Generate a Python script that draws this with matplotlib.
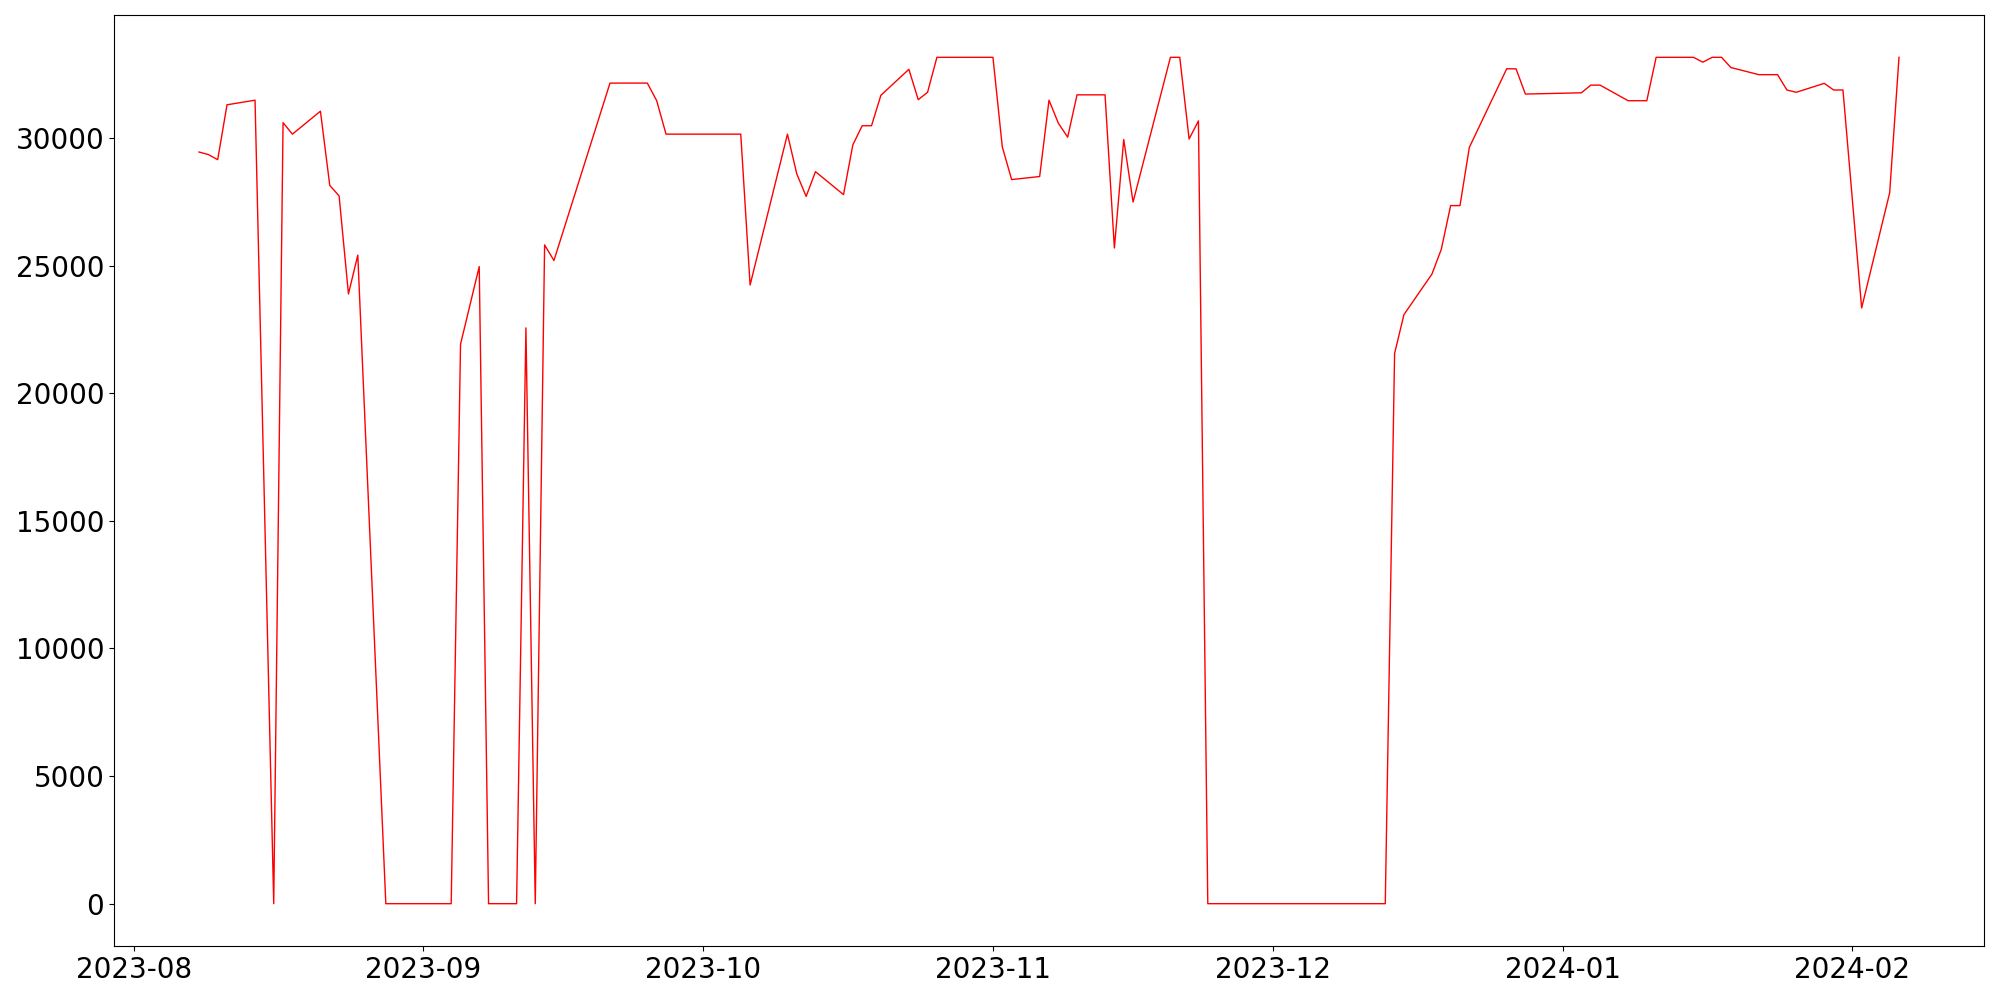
import matplotlib
matplotlib.use("Agg")
import matplotlib.pyplot as plt
import pandas as pd

# business-day series, values
dates = [
    "2023-08-08", "2023-08-09", "2023-08-10", "2023-08-11", "2023-08-14",
    "2023-08-16", "2023-08-17", "2023-08-18", "2023-08-21", "2023-08-22",
    "2023-08-23", "2023-08-24", "2023-08-25", "2023-08-28", "2023-08-29",
    "2023-08-30", "2023-08-31", "2023-09-01", "2023-09-04", "2023-09-05",
    "2023-09-07", "2023-09-08", "2023-09-11", "2023-09-12", "2023-09-13",
    "2023-09-14", "2023-09-15", "2023-09-21", "2023-09-22", "2023-09-25",
    "2023-09-26", "2023-09-27", "2023-10-05", "2023-10-06", "2023-10-10",
    "2023-10-11", "2023-10-12", "2023-10-13", "2023-10-16", "2023-10-17",
    "2023-10-18", "2023-10-19", "2023-10-20", "2023-10-23", "2023-10-24",
    "2023-10-25", "2023-10-26", "2023-11-01", "2023-11-02", "2023-11-03",
    "2023-11-06", "2023-11-07", "2023-11-08", "2023-11-09", "2023-11-10",
    "2023-11-13", "2023-11-14", "2023-11-15", "2023-11-16", "2023-11-20",
    "2023-11-21", "2023-11-22", "2023-11-23", "2023-11-24", "2023-12-13",
    "2023-12-14", "2023-12-15", "2023-12-18", "2023-12-19", "2023-12-20",
    "2023-12-21", "2023-12-22", "2023-12-26", "2023-12-27", "2023-12-28",
    "2024-01-03", "2024-01-04", "2024-01-05", "2024-01-08", "2024-01-10",
    "2024-01-11", "2024-01-15", "2024-01-16", "2024-01-17", "2024-01-18",
    "2024-01-19", "2024-01-22", "2024-01-24", "2024-01-25", "2024-01-26",
    "2024-01-29", "2024-01-30", "2024-01-31", "2024-02-02", "2024-02-05",
    "2024-02-06",
]

values = [
    29450, 29350, 29150, 31300, 31480,
    0, 30600, 30150, 31050, 28140,
    27730, 23890, 25410, 0, 0,
    0, 0, 0, 0, 21920,
    24960, 0, 0, 22560, 0,
    25810, 25200, 32150, 32150, 32150,
    31460, 30150, 30150, 24240, 30150,
    28590, 27710, 28680, 27780, 29730,
    30480, 30480, 31670, 32690, 31500,
    31790, 33160, 33160, 29650, 28370,
    28490, 31480, 30580, 30030, 31690,
    31690, 25690, 29940, 27490, 33160,
    33160, 29960, 30670, 0, 0,
    21560, 23080, 24670, 25640, 27350,
    27350, 29630, 32710, 32710, 31720,
    31770, 32070, 32070, 31460, 31460,
    33160, 33160, 32970, 33160, 33160,
    32760, 32480, 32480, 31880, 31790,
    32140, 31880, 31880, 23340, 27850,
    33160,
]

df = pd.DataFrame({"date": pd.to_datetime(dates), "value": values})

fig, ax = plt.subplots(figsize=(20, 10), dpi=100)
ax.plot(df["date"], df["value"], color="red", linewidth=1)

ax.tick_params(axis="both", labelsize=20)

plt.subplots_adjust(left=0.057, right=0.992, bottom=0.054, top=0.985)
plt.savefig("out.png")
